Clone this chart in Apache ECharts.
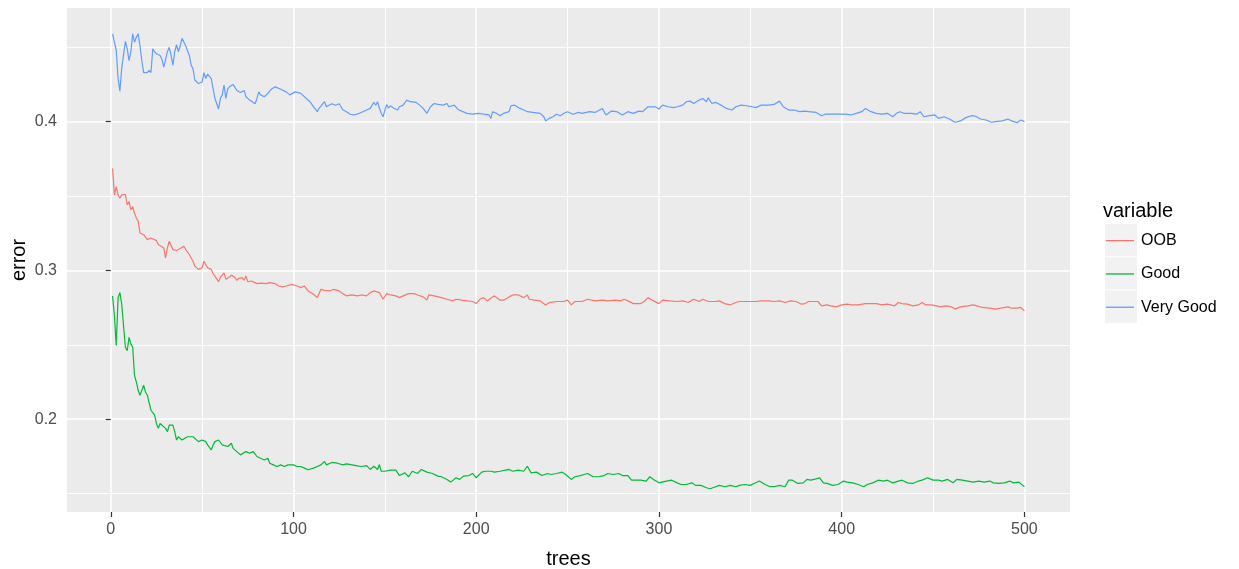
<!DOCTYPE html>
<html>
<head>
<meta charset="utf-8">
<title>error vs trees</title>
<script src="https://cdn.jsdelivr.net/npm/echarts@6/dist/echarts.min.js"></script>
<style>
  html, body { margin: 0; padding: 0; background: #ffffff; }
  #chart { width: 1239px; height: 569px; }
</style>
</head>
<body>
<div id="chart"></div>
<script>
// Error rate per number of trees: [trees, error]
const oob = [[1,0.3686],[2,0.3508],[3,0.3563],[4,0.3508],[5,0.3485],[6,0.3508],[7,0.3497],[8,0.3512],[9,0.3441],[10,0.3463],[11,0.3407],[12,0.343],[13,0.3385],[14,0.3352],[15,0.333],[16,0.3252],[17,0.3263],[18,0.324],[20,0.3207],[21,0.3196],[22,0.3218],[23,0.3207],[25,0.32],[26,0.3174],[27,0.3163],[29,0.3151],[30,0.3085],[31,0.3151],[32,0.3196],[34,0.314],[35,0.3151],[36,0.3134],[38,0.3147],[40,0.3163],[41,0.314],[43,0.3107],[45,0.3062],[46,0.3029],[48,0.3007],[50,0.3018],[51,0.3062],[53,0.3018],[55,0.3007],[56,0.2978],[57,0.2962],[59,0.2924],[60,0.2955],[62,0.2984],[63,0.294],[65,0.2955],[66,0.2969],[68,0.2951],[69,0.2933],[70,0.2947],[72,0.2951],[73,0.2933],[74,0.2962],[75,0.2924],[77,0.2929],[78,0.2918],[80,0.2911],[82,0.2915],[85,0.2911],[87,0.2918],[90,0.2911],[92,0.2895],[94,0.2889],[96,0.2895],[99,0.2906],[102,0.2895],[104,0.2884],[106,0.2895],[108,0.2862],[111,0.284],[113,0.2817],[115,0.2873],[117,0.2866],[120,0.2862],[122,0.2873],[125,0.2862],[127,0.2844],[129,0.2829],[132,0.2835],[135,0.2829],[137,0.2835],[140,0.2829],[142,0.2851],[144,0.2862],[145,0.2866],[147,0.2851],[148,0.2829],[149,0.2806],[151,0.2844],[153,0.2835],[156,0.2829],[158,0.2817],[160,0.2829],[163,0.2844],[166,0.2844],[168,0.2835],[171,0.2822],[173,0.28],[174,0.2835],[177,0.2829],[178,0.2835],[181,0.2817],[184,0.2806],[187,0.2795],[189,0.2806],[192,0.28],[195,0.2795],[198,0.2791],[200,0.2777],[202,0.2806],[204,0.2817],[206,0.2795],[208,0.2813],[210,0.2829],[213,0.28],[215,0.28],[218,0.2822],[220,0.2835],[223,0.2835],[226,0.2817],[228,0.2835],[229,0.2806],[232,0.28],[235,0.2795],[238,0.2768],[240,0.2784],[244,0.2791],[248,0.2791],[250,0.28],[252,0.2768],[254,0.2791],[258,0.2791],[261,0.2806],[265,0.2795],[269,0.28],[272,0.2795],[276,0.28],[279,0.2795],[281,0.2806],[283,0.2795],[286,0.2777],[290,0.2777],[292,0.2791],[294,0.2817],[297,0.2795],[300,0.2777],[302,0.28],[306,0.2795],[310,0.2791],[313,0.2795],[316,0.2784],[319,0.2806],[322,0.2791],[324,0.2806],[327,0.2791],[331,0.2791],[333,0.2795],[336,0.2777],[339,0.2768],[342,0.2784],[344,0.2791],[347,0.2791],[351,0.2791],[353,0.2791],[356,0.2795],[360,0.2795],[363,0.2791],[366,0.2795],[369,0.2784],[372,0.2795],[375,0.2791],[378,0.2773],[380,0.2777],[382,0.2791],[384,0.2791],[387,0.2791],[389,0.2762],[392,0.2768],[394,0.2762],[397,0.2755],[400,0.2768],[403,0.2773],[405,0.2768],[409,0.2768],[413,0.2777],[419,0.2777],[422,0.2768],[425,0.2773],[429,0.2762],[431,0.2784],[433,0.2777],[436,0.2773],[439,0.2762],[442,0.2768],[444,0.2784],[446,0.2768],[449,0.2768],[452,0.2762],[454,0.2755],[457,0.2762],[460,0.2755],[462,0.274],[465,0.2755],[469,0.2762],[472,0.2768],[474,0.2762],[477,0.2751],[481,0.2746],[484,0.274],[487,0.2746],[491,0.2755],[493,0.2746],[496,0.2746],[498,0.2751],[500,0.2728]];

const good = [[1,0.2829],[2,0.2695],[3,0.2495],[4,0.2817],[5,0.2851],[6,0.2773],[7,0.2628],[8,0.2483],[9,0.2461],[10,0.255],[11,0.2506],[12,0.2483],[13,0.2294],[14,0.225],[15,0.2194],[16,0.2161],[17,0.2172],[18,0.2228],[19,0.2183],[20,0.2161],[21,0.2149],[22,0.206],[23,0.2049],[24,0.2027],[25,0.1971],[26,0.1938],[27,0.1971],[28,0.1982],[30,0.1938],[31,0.1916],[32,0.196],[33,0.1971],[34,0.196],[35,0.1916],[36,0.186],[37,0.1882],[39,0.186],[40,0.1871],[42,0.1882],[43,0.1893],[45,0.1882],[46,0.1871],[48,0.1849],[50,0.186],[52,0.1849],[53,0.1827],[55,0.1793],[56,0.1827],[57,0.1849],[59,0.186],[61,0.1827],[62,0.1833],[64,0.1816],[66,0.1838],[67,0.1804],[69,0.1782],[71,0.176],[72,0.1771],[74,0.1782],[76,0.1771],[78,0.1782],[80,0.1749],[82,0.1737],[84,0.1726],[86,0.1737],[87,0.1704],[89,0.1693],[91,0.1682],[93,0.1693],[95,0.1682],[97,0.1693],[98,0.1704],[100,0.1693],[102,0.1682],[104,0.1682],[106,0.1671],[108,0.166],[109,0.1671],[111,0.1671],[113,0.1682],[115,0.1693],[117,0.1715],[118,0.1693],[121,0.1709],[124,0.1704],[127,0.1693],[129,0.17],[132,0.1693],[135,0.1686],[137,0.1682],[140,0.1688],[142,0.1662],[144,0.1684],[146,0.1662],[147,0.1695],[148,0.165],[150,0.165],[153,0.1657],[156,0.1657],[158,0.1621],[161,0.1639],[163,0.1613],[165,0.165],[168,0.1635],[170,0.1662],[173,0.1644],[176,0.1635],[179,0.1617],[181,0.1613],[184,0.1595],[186,0.1577],[189,0.1606],[191,0.1595],[193,0.1617],[196,0.1621],[198,0.1635],[200,0.1606],[203,0.1644],[205,0.165],[208,0.165],[210,0.1644],[213,0.165],[216,0.1657],[218,0.1662],[220,0.165],[223,0.1657],[226,0.165],[228,0.1684],[230,0.1639],[233,0.1644],[236,0.1621],[239,0.1635],[241,0.1628],[244,0.1635],[247,0.1644],[249,0.1628],[252,0.1595],[254,0.1613],[257,0.1621],[259,0.1628],[261,0.1635],[264,0.1613],[267,0.1613],[270,0.1621],[272,0.1635],[275,0.1628],[278,0.1635],[280,0.1621],[283,0.1621],[285,0.159],[288,0.159],[290,0.159],[293,0.1584],[295,0.1613],[297,0.1595],[300,0.1572],[301,0.1568],[304,0.1584],[307,0.159],[310,0.1572],[312,0.1561],[315,0.1561],[318,0.1572],[320,0.1555],[321,0.1546],[323,0.1555],[326,0.1539],[328,0.1532],[331,0.1546],[333,0.1555],[336,0.1546],[339,0.1555],[342,0.1546],[344,0.1555],[347,0.1561],[350,0.1555],[352,0.1568],[355,0.1584],[358,0.1561],[361,0.1546],[363,0.1546],[366,0.1555],[369,0.1546],[371,0.159],[373,0.159],[376,0.1568],[379,0.1572],[381,0.1595],[383,0.159],[386,0.1599],[388,0.1606],[390,0.1572],[392,0.1568],[395,0.1555],[398,0.1561],[401,0.1584],[403,0.1577],[406,0.1572],[409,0.1561],[412,0.1546],[414,0.1561],[417,0.1572],[420,0.159],[423,0.1584],[425,0.159],[428,0.1572],[431,0.1584],[433,0.159],[436,0.1572],[439,0.1568],[442,0.1584],[444,0.159],[447,0.1606],[450,0.159],[453,0.159],[455,0.1584],[458,0.1595],[461,0.1572],[463,0.1595],[466,0.159],[469,0.1584],[472,0.1577],[475,0.1584],[478,0.1577],[481,0.1584],[483,0.1572],[486,0.1568],[489,0.1572],[492,0.1584],[494,0.1572],[497,0.1577],[500,0.1546]];

const veryGood = [[1,0.459],[2,0.458],[3,0.448],[4,0.429],[5,0.4205],[6,0.436],[7,0.445],[8,0.454],[9,0.449],[10,0.441],[11,0.447],[12,0.459],[13,0.4534],[14,0.4568],[15,0.459],[16,0.451],[17,0.441],[18,0.433],[19,0.432],[20,0.433],[21,0.4345],[22,0.433],[23,0.449],[24,0.447],[25,0.4456],[27,0.4445],[28,0.442],[29,0.4367],[30,0.4356],[31,0.447],[32,0.45],[33,0.4445],[34,0.4378],[35,0.447],[36,0.4517],[37,0.447],[38,0.451],[39,0.456],[40,0.457],[41,0.451],[43,0.4445],[44,0.438],[45,0.4356],[46,0.428],[48,0.4256],[49,0.4245],[50,0.4267],[51,0.433],[52,0.429],[53,0.432],[55,0.429],[56,0.422],[57,0.4156],[59,0.4085],[60,0.4156],[61,0.418],[62,0.4245],[63,0.4156],[64,0.422],[65,0.4234],[67,0.425],[68,0.4256],[69,0.421],[70,0.422],[71,0.4196],[73,0.421],[74,0.4167],[76,0.4145],[77,0.4134],[79,0.412],[80,0.4156],[81,0.42],[82,0.418],[84,0.4167],[86,0.419],[88,0.422],[90,0.4234],[93,0.4218],[96,0.42],[98,0.418],[101,0.42],[104,0.419],[107,0.4156],[109,0.4134],[111,0.41],[113,0.4067],[114,0.409],[117,0.4134],[118,0.41],[121,0.412],[123,0.411],[125,0.412],[127,0.408],[129,0.4067],[131,0.405],[133,0.4045],[136,0.4056],[138,0.4067],[140,0.4078],[142,0.4089],[144,0.413],[145,0.411],[146,0.4134],[147,0.409],[148,0.4056],[149,0.4033],[151,0.4116],[152,0.409],[153,0.4107],[155,0.409],[157,0.4078],[158,0.41],[160,0.4111],[162,0.4145],[164,0.4134],[167,0.413],[169,0.4111],[171,0.4089],[173,0.4056],[175,0.41],[177,0.4122],[179,0.4116],[182,0.4111],[184,0.4122],[185,0.41],[188,0.4111],[190,0.4082],[192,0.4071],[195,0.4056],[198,0.405],[199,0.4045],[201,0.4056],[204,0.405],[207,0.4045],[208,0.4022],[209,0.4067],[211,0.4056],[213,0.404],[215,0.4056],[218,0.4067],[219,0.4107],[221,0.4111],[224,0.4089],[226,0.4078],[228,0.4067],[231,0.4062],[235,0.4056],[237,0.4033],[238,0.4005],[240,0.4022],[242,0.4033],[244,0.405],[246,0.404],[248,0.4056],[250,0.4067],[253,0.405],[256,0.4062],[258,0.4056],[262,0.4067],[265,0.4062],[269,0.4089],[271,0.4045],[274,0.4071],[277,0.4067],[280,0.4045],[283,0.4067],[286,0.4056],[289,0.4071],[291,0.4067],[294,0.41],[298,0.41],[300,0.4085],[302,0.4111],[305,0.41],[308,0.4094],[310,0.41],[313,0.4111],[315,0.4134],[317,0.4138],[319,0.4122],[322,0.4145],[324,0.4156],[326,0.4134],[327,0.416],[329,0.4122],[331,0.413],[334,0.4111],[337,0.4089],[340,0.4078],[342,0.41],[345,0.4111],[348,0.4107],[351,0.41],[353,0.4094],[356,0.4111],[360,0.4111],[363,0.4116],[366,0.4138],[368,0.41],[371,0.4078],[374,0.4078],[377,0.4067],[380,0.4071],[382,0.4067],[386,0.4062],[389,0.404],[391,0.405],[395,0.4051],[399,0.405],[402,0.405],[405,0.4045],[408,0.4056],[411,0.4067],[413,0.4089],[416,0.4067],[419,0.4056],[422,0.405],[425,0.4056],[428,0.4033],[430,0.4056],[432,0.4067],[434,0.4056],[438,0.4056],[441,0.405],[443,0.4067],[445,0.4033],[448,0.404],[451,0.4045],[453,0.4022],[456,0.4033],[459,0.4018],[462,0.3996],[465,0.4005],[468,0.4027],[471,0.404],[473,0.4038],[476,0.4018],[479,0.4011],[482,0.3996],[484,0.4],[488,0.4005],[491,0.4018],[493,0.4005],[496,0.3993],[498,0.4011],[500,0.4]];

const seriesNames = ['OOB', 'Good', 'Very Good'];
const seriesColors = ['#F8766D', '#00BA38', '#619CFF'];

// Tick positions (major with labels, minor as grid only)
const xMajorTicks = [0, 100, 200, 300, 400, 500];
const xMinorTicks = [50, 150, 250, 350, 450];
const yMajorTicks = [0.2, 0.3, 0.4];
const yMinorTicks = [0.15, 0.25, 0.35, 0.45];

// Panel limits: data range padded by 5% on each side
const xMin = -23.95, xMax = 524.95;
const yMin = 0.1376, yMax = 0.4764;

const FONT = '"Liberation Sans", Arial, sans-serif';

const chart = echarts.init(document.getElementById('chart'), null, { renderer: 'canvas' });

const hiddenAxisParts = {
  axisLine: { show: false },
  axisLabel: { show: false },
  minorTick: { show: false },
  minorSplitLine: { show: false }
};

// Legend key backgrounds
const keyTop = 224, keyStep = 33.3;
const keyBoxes = seriesNames.map((_, i) => ({
  type: 'rect', z: -1,
  shape: { x: 1105, y: keyTop + i * keyStep, width: 32, height: keyStep - 1 },
  style: { fill: '#F2F2F2' }
}));

const option = {
  animation: false,
  backgroundColor: '#ffffff',
  grid: {
    left: 67, top: 8, width: 1003, height: 504,
    show: true, backgroundColor: '#EBEBEB', borderWidth: 0,
    containLabel: false, outerBoundsMode: 'none'
  },
  xAxis: [
    {
      type: 'value', min: xMin, max: xMax, position: 'bottom',
      name: 'trees', nameLocation: 'middle', nameGap: 37, nameMoveOverlap: false,
      nameTextStyle: { fontFamily: FONT, fontSize: 20, color: '#000000' },
      axisLine: { show: false },
      axisTick: { show: true, length: 5, customValues: xMajorTicks, lineStyle: { color: '#333333', width: 1.2 } },
      axisLabel: { show: true, customValues: xMajorTicks, margin: 10, fontFamily: FONT, fontSize: 16, color: '#4D4D4D',
                   formatter: v => String(Math.round(v)) },
      splitLine: { show: true, lineStyle: { color: '#FFFFFF', width: 1.6 } },
      minorTick: { show: false }, minorSplitLine: { show: false }
    },
    Object.assign({
      type: 'value', min: xMin, max: xMax, position: 'top',
      axisTick: { show: false, customValues: xMinorTicks },
      splitLine: { show: true, lineStyle: { color: '#FFFFFF', width: 0.9 } }
    }, hiddenAxisParts)
  ],
  yAxis: [
    {
      type: 'value', min: yMin, max: yMax, position: 'left',
      name: 'error', nameLocation: 'middle', nameGap: 38, nameRotate: 90, nameMoveOverlap: false,
      nameTextStyle: { fontFamily: FONT, fontSize: 20, color: '#000000' },
      axisLine: { show: false },
      axisTick: { show: true, length: 5, customValues: yMajorTicks, lineStyle: { color: '#333333', width: 1.2 } },
      axisLabel: { show: true, customValues: yMajorTicks, margin: 10, fontFamily: FONT, fontSize: 16, color: '#4D4D4D',
                   formatter: v => v.toFixed(1) },
      splitLine: { show: true, lineStyle: { color: '#FFFFFF', width: 1.6 } },
      minorTick: { show: false }, minorSplitLine: { show: false }
    },
    Object.assign({
      type: 'value', min: yMin, max: yMax, position: 'right',
      axisTick: { show: false, customValues: yMinorTicks },
      splitLine: { show: true, lineStyle: { color: '#FFFFFF', width: 0.9 } }
    }, hiddenAxisParts)
  ],
  legend: {
    orient: 'vertical', left: 1106, top: keyTop,
    padding: 0,
    itemWidth: 28, itemHeight: 33, itemGap: 0,
    icon: 'path://M0,0H28V1.3H0Z', symbolKeepAspect: true,
    textStyle: { fontFamily: FONT, fontSize: 16, color: '#000000', lineHeight: keyStep, padding: [0, 0, 0, 2] },
    selectedMode: false,
    data: seriesNames
  },
  graphic: [
    { type: 'text', left: 1103, top: 201, style: { text: 'variable', fontFamily: FONT, fontSize: 20, fill: '#000000' } }
  ].concat(keyBoxes),
  series: [oob, good, veryGood].map((data, i) => ({
    name: seriesNames[i],
    type: 'line',
    xAxisIndex: 0, yAxisIndex: 0,
    data: data,
    showSymbol: false,
    symbol: 'none',
    smooth: false,
    color: seriesColors[i],
    itemStyle: { color: seriesColors[i] },
    lineStyle: { color: seriesColors[i], width: 1.2 },
    emphasis: { disabled: true },
    z: 2 + i
  }))
};

chart.setOption(option);
</script>
</body>
</html>
